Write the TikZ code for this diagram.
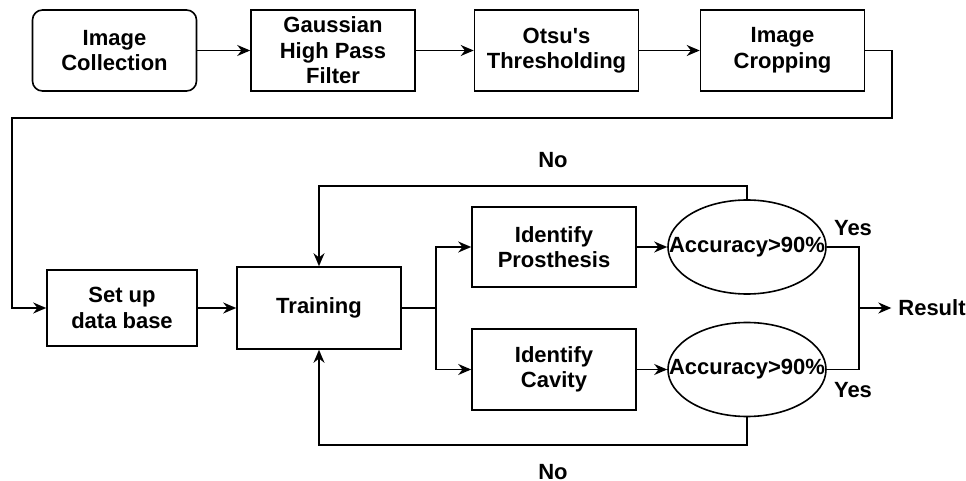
\documentclass[tikz,border=0pt]{standalone}
\usepackage{fontspec}
\setmainfont{Liberation Sans}
\usepackage{tikz}
\usetikzlibrary{arrows.meta}
\usetikzlibrary{shapes.geometric}
\tikzstyle{block} = [draw, line width=0.8pt,
	minimum width = 82pt,
	minimum height = 40.5pt,
	align=center]
\tikzstyle{check} = [draw, ellipse, line width=0.8pt,
	minimum width = 79pt,
	minimum height = 47pt]
\tikzstyle{arrow} = [-{Stealth[length=6.5pt, width=5.5pt]}, line width=0.8pt]
\tikzstyle{line} = [line width=0.8pt]

\begin{document}
\begin{tikzpicture}[x=0.5pt, y=-0.5pt, font=\bfseries\fontsize{11}{12.8}\selectfont]
	\useasboundingbox (0,0) rectangle (966,481);
	% top row
	\node (coll) [block, rounded corners=5pt] at (114.5, 50.5) {Image\\Collection};
	\node (gauss) [block] at (333, 50.5) {Gaussian\\High Pass\\Filter};
	\node (otsu) [block] at (556.5, 50.5) {Otsu\textquotesingle s\\Thresholding};
	\node (crop) [block] at (782.5, 50.5) {Image\\Cropping};
	\draw [arrow] (coll) -- (gauss);
	\draw [arrow] (gauss) -- (otsu);
	\draw [arrow] (otsu) -- (crop);
	
	% bottom row
	\node (db) [block, minimum width=75pt, minimum height=38pt] at (122, 308) {Set up\\data base};
	\node (train) [block, minimum height=41pt] at (319, 308) {Training};
	\node (pros) [block, minimum height=40pt] at (554, 247) {Identify\\Prosthesis};
	\node (cav) [block] at (554, 369.5) {Identify\\Cavity};
	\node (acc1) [check, label=center:{Accuracy>90\%}] at (747, 247) {};
	\node (acc2) [check, label=center:{Accuracy>90\%}] at (747, 369.5) {};
	\node (res) at (932, 308) {Result};
	
	\coordinate (c1) at (892, 118);
	\coordinate (c2) at (12, 118);
	\draw [arrow] (crop.east) -| (c1) -- (c2) |- (db.west);
	\draw [arrow] (db) -- (train);
	
	\coordinate (split) at (436, 308);
	\draw [line] (train) -- (split);
	\draw [arrow] (split) |- (pros.west);
	\draw [arrow] (split) |- (cav.west);
	\draw [arrow] (pros) -- (acc1);
	\draw [arrow] (cav) -- (acc2);
	
	% feedback loops
	\draw [arrow] (acc1.north) -- ++(0,-13) -| (train.north);
	\draw [arrow] (acc2.south) -- ++(0,28) -| (train.south);
	\node (no1) at (553, 160) {No};
	\node (no2) at (553, 472) {No};
	
	\coordinate (join) at (859, 308);
	\draw [line] (acc1.east) -| (join);
	\draw [line] (acc2.east) -| (join);
	\draw [arrow] (join) -- (res.west);
	\node (yes1) at (853, 228) {Yes};
	\node (yes2) at (853, 390) {Yes};
\end{tikzpicture}
\end{document}
